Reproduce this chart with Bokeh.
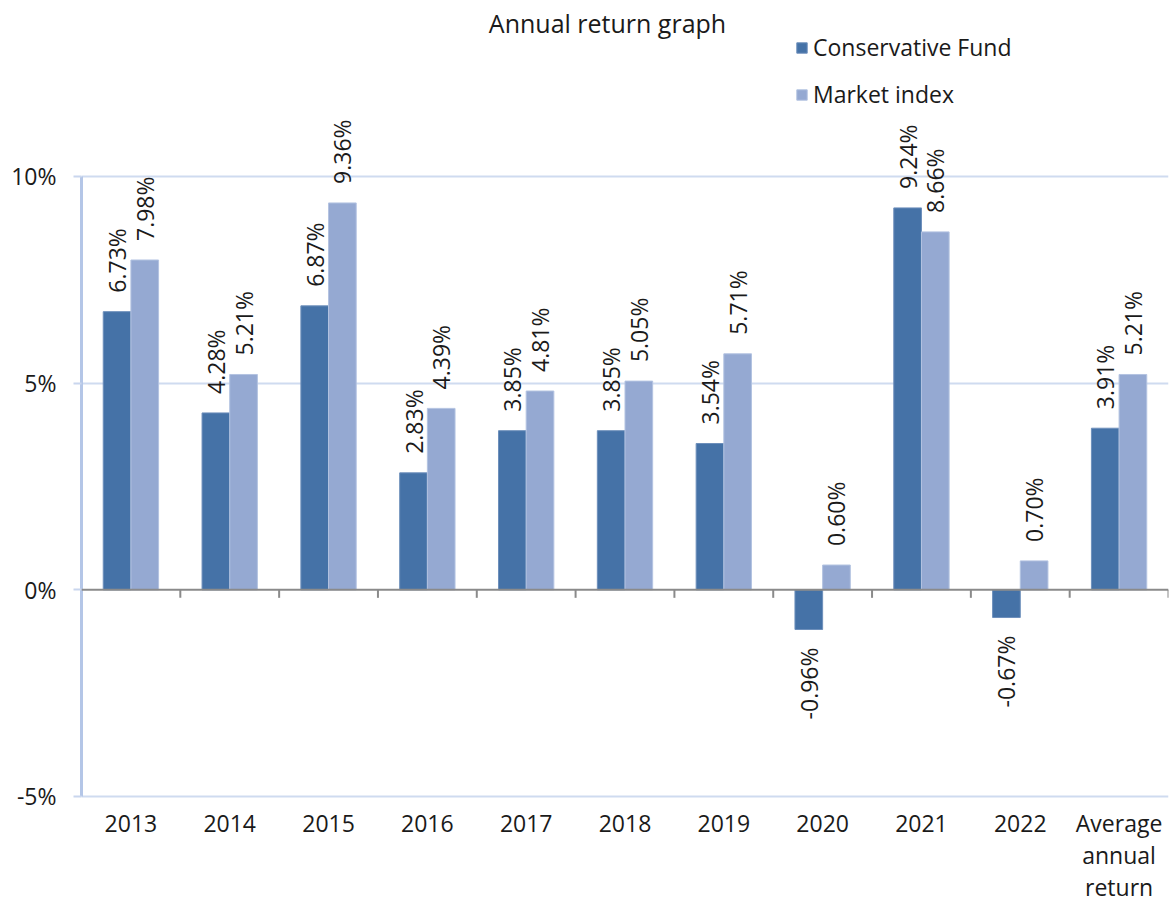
import numpy as np
from bokeh.plotting import figure
from bokeh.models import (ColumnDataSource, Range1d, FixedTicker, Label, Legend,
                          LegendItem, Span)
from bokeh.embed import file_html
from bokeh.resources import INLINE
from bokeh.core.properties import value

# ---------------- data ----------------
categories = ["2013", "2014", "2015", "2016", "2017", "2018", "2019", "2020",
              "2021", "2022", "Average\nannual\nreturn"]
fund = [6.73, 4.28, 6.87, 2.83, 3.85, 3.85, 3.54, -0.96, 9.24, -0.67, 3.91]
market = [7.98, 5.21, 9.36, 4.39, 4.81, 5.05, 5.71, 0.60, 8.66, 0.70, 5.21]
series_names = ["Conservative Fund", "Market index"]
y_ticks = [-5, 0, 5, 10]
y_tick_labels = ["-5%", "0%", "5%", "10%"]

# ---------------- layout ----------------
W, H = 1172, 905
FRAME_L, FRAME_R, FRAME_T, FRAME_B = 81, 1168, 0, 798
PX_PER_PCT = 620 / 15.0
ZERO_PX = 589.33
n = len(categories)
y_top = (ZERO_PX - FRAME_T) / PX_PER_PCT
y_bot = (ZERO_PX - FRAME_B) / PX_PER_PCT

def px2x(px):
    return (px - FRAME_L) / (FRAME_R - FRAME_L) * n

def px2y(py):
    return (ZERO_PX - py) / PX_PER_PCT

FONT = "Open Sans"
FS = "23px"
TXT = "#1a1a1a"
DARK = "#4572A7"
LIGHT = "#95A9D2"
BAR_W = 0.28
OFF = 0.14

p = figure(width=W, height=H, x_range=Range1d(0, n), y_range=Range1d(y_bot, y_top),
           output_backend="svg", toolbar_location=None,
           min_border_left=FRAME_L, min_border_right=W - FRAME_R,
           min_border_top=FRAME_T, min_border_bottom=H - FRAME_B)
p.title.visible = False
p.outline_line_color = None
p.background_fill_color = "white"
p.border_fill_color = "white"

# grid
p.xgrid.visible = False
p.ygrid.ticker = FixedTicker(ticks=[t for t in y_ticks if t != 0])
p.ygrid.grid_line_color = "#cfdbf0"
p.ygrid.grid_line_width = 2

# y axis
p.yaxis.ticker = FixedTicker(ticks=y_ticks)
p.yaxis.major_label_overrides = {t: l for t, l in zip(y_ticks, y_tick_labels)}
p.yaxis.bounds = (min(y_ticks), max(y_ticks))
p.yaxis.axis_line_color = "#b4c6e7"
p.yaxis.axis_line_width = 3
p.yaxis.major_tick_line_color = "#c9d6ee"
p.yaxis.major_tick_line_width = 2
p.yaxis.major_tick_out = 8
p.yaxis.major_tick_in = 0
p.yaxis.minor_tick_line_color = None
p.yaxis.major_label_text_font = FONT
p.yaxis.major_label_text_font_size = FS
p.yaxis.major_label_text_color = TXT
p.yaxis.major_label_standoff = 17

# x axis (labels only)
xt = [i + 0.5 for i in range(n)]
p.xaxis.ticker = FixedTicker(ticks=xt)
p.xaxis.major_label_overrides = {t: c for t, c in zip(xt, categories)}
p.xaxis.axis_line_color = None
p.xaxis.major_tick_line_color = None
p.xaxis.minor_tick_line_color = None
p.xaxis.major_label_text_font = FONT
p.xaxis.major_label_text_font_size = FS
p.xaxis.major_label_text_color = TXT
p.xaxis.major_label_text_line_height = 1.0
p.xaxis.major_label_standoff = 2

# bars
idx = np.arange(n)
src_f = ColumnDataSource(dict(x=idx + 0.5 - OFF, top=fund))
src_m = ColumnDataSource(dict(x=idx + 0.5 + OFF, top=market))
r_f = p.vbar(x="x", top="top", bottom=0, width=BAR_W, source=src_f,
             fill_color=DARK, line_color="#6d8fbb", line_width=1)
r_m = p.vbar(x="x", top="top", bottom=0, width=BAR_W, source=src_m,
             fill_color=LIGHT, line_color="#b3c3e1", line_width=1)

# zero line + category boundary ticks
p.add_layout(Span(location=0, dimension="width", line_color="#8a8a8a", line_width=2))
bounds = list(range(n + 1))
p.segment(x0=bounds, y0=[0] * len(bounds), x1=bounds,
          y1=[-8 / PX_PER_PCT] * len(bounds), line_color="#8a8a8a", line_width=2)

# value labels
for vals, off in ((fund, -OFF), (market, OFF)):
    pos = [(i + 0.5 + off, v) for i, v in enumerate(vals) if v >= 0]
    neg = [(i + 0.5 + off, v) for i, v in enumerate(vals) if v < 0]
    for pts, align, yoff in ((pos, "left", -19), (neg, "right", 18)):
        if not pts:
            continue
        xs = [a for a, b in pts]
        ys = [b for a, b in pts]
        txt = [f"{b:.2f}%" for a, b in pts]
        p.text(x=xs, y=ys, text=txt, angle=np.pi / 2, text_align=align,
               text_baseline="middle", y_offset=yoff,
               text_font=value(FONT), text_font_size=FS, text_color=TXT)

# legend
legend = Legend(items=[LegendItem(label=series_names[0], renderers=[r_f]),
                       LegendItem(label=series_names[1], renderers=[r_m])],
                location=(795 - FRAME_L, FRAME_B - 110),
                glyph_width=13, glyph_height=13, label_standoff=5, spacing=15,
                padding=0, margin=0, border_line_color=None, background_fill_alpha=0,
                label_text_font=FONT, label_text_font_size=FS, label_text_color=TXT)
p.add_layout(legend)

# title
p.add_layout(Label(x=px2x(607), y=px2y(22), text="Annual return graph",
                   text_align="center", text_baseline="middle",
                   text_font=FONT, text_font_size="25px", text_color=TXT))

open("out.html", "w").write(file_html(p, INLINE))
